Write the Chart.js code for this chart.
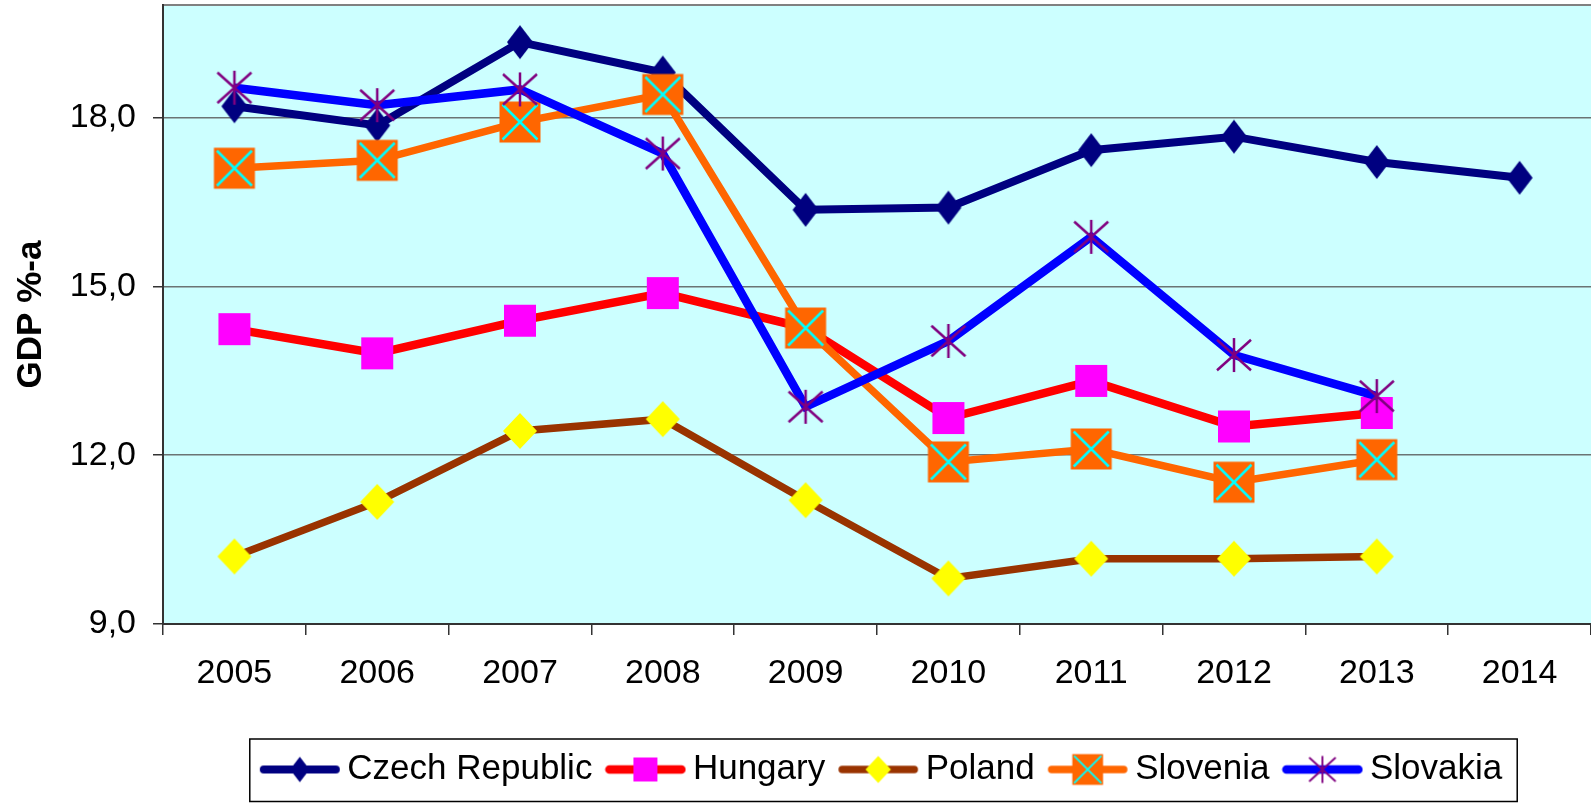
<!DOCTYPE html>
<html>
<head>
<meta charset="UTF-8">
<title>GDP %-a</title>
<script src="https://cdn.jsdelivr.net/npm/chart.js"></script>
<style>
  html, body { margin: 0; padding: 0; background: #fff; }
  .chart-box { width: 1591px; height: 803px; }
</style>
</head>
<body>
<div class="chart-box"><canvas id="gdpChart"></canvas></div>
<script>
// data
const years = ['2005', '2006', '2007', '2008', '2009', '2010', '2011', '2012', '2013', '2014'];
const czech = [18.2, 17.86, 19.34, 18.8, 16.36, 16.4, 17.42, 17.66, 17.21, 16.93];
const hungary = [14.24, 13.81, 14.39, 14.88, 14.26, 12.66, 13.32, 12.51, 12.75, null];
const poland = [10.2, 11.17, 12.43, 12.64, 11.2, 9.81, 10.16, 10.16, 10.2, null];
const slovenia = [17.1, 17.24, 17.92, 18.41, 14.26, 11.88, 12.11, 11.52, 11.92, null];
const slovakia = [18.53, 18.22, 18.5, 17.36, 12.86, 14.03, 15.88, 13.78, 13.05, null];
const yTicks = [9, 12, 15, 18];

const FONT = "'Liberation Sans', Arial, sans-serif";
const LEGEND_PAD = 23;

// excel-like markers
function drawMarker(g, kind, x, y, s) {
    g.beginPath();
    if (kind === 'diamond' || kind === 'ydiamond') {
        const hw = (kind === 'diamond' ? 13 : 17) * s;
        const hh = (kind === 'diamond' ? 17 : 18) * s;
        g.moveTo(x, y - hh); g.lineTo(x + hw, y); g.lineTo(x, y + hh); g.lineTo(x - hw, y); g.closePath();
        g.fillStyle = kind === 'diamond' ? '#000080' : '#FFFF00';
        g.fill();
    } else if (kind === 'square') {
        const h = 16 * s;
        g.fillStyle = '#FF00FF';
        g.fillRect(x - h, y - h, 2 * h, 2 * h);
    } else if (kind === 'xsquare') {
        const h = 20.5 * s, i = 3 * s;
        g.fillStyle = '#FF6600';
        g.fillRect(x - h, y - h, 2 * h, 2 * h);
        g.strokeStyle = '#00FFFF';
        g.lineWidth = 2.5 * s;
        g.moveTo(x - h + i, y - h + i); g.lineTo(x + h - i, y + h - i);
        g.moveTo(x + h - i, y - h + i); g.lineTo(x - h + i, y + h - i);
        g.stroke();
    } else if (kind === 'star') {
        const r = 17 * s;
        g.strokeStyle = '#800080';
        g.lineWidth = 2.5 * s;
        g.moveTo(x, y - r); g.lineTo(x, y + r);
        g.moveTo(x - r, y - 0.9 * r); g.lineTo(x + r, y + 0.9 * r);
        g.moveTo(x + r, y - 0.9 * r); g.lineTo(x - r, y + 0.9 * r);
        g.stroke();
    }
}

function pointImage(kind) {
    const c = document.createElement('canvas');
    c.width = 48; c.height = 48;
    drawMarker(c.getContext('2d'), kind, 24, 24, 1);
    return c;
}

function legendImage(kind, color, width) {
    const c = document.createElement('canvas');
    c.width = 82; c.height = 44;
    const g = c.getContext('2d');
    g.strokeStyle = color;
    g.lineWidth = width;
    g.lineCap = 'round';
    g.beginPath(); g.moveTo(5, 22); g.lineTo(77, 22); g.stroke();
    drawMarker(g, kind, 41, 22, 0.75);
    return c;
}

const series = [
    { label: 'Czech Republic', data: czech, color: '#000080', width: 8, kind: 'diamond' },
    { label: 'Hungary', data: hungary, color: '#FF0000', width: 8.5, kind: 'square' },
    { label: 'Poland', data: poland, color: '#993300', width: 7.5, kind: 'ydiamond' },
    { label: 'Slovenia', data: slovenia, color: '#FF6600', width: 7.5, kind: 'xsquare' },
    { label: 'Slovakia', data: slovakia, color: '#0000FF', width: 8.5, kind: 'star' }
];

// later series on top, like excel
const datasets = series.map((s, i) => ({
    label: s.label,
    data: s.data,
    borderColor: s.color,
    borderWidth: s.width,
    pointStyle: pointImage(s.kind),
    pointRadius: 5,
    legendImg: legendImage(s.kind, s.color, s.width),
    order: series.length - i,
    tension: 0,
    spanGaps: false
}));

const plotFrame = {
    id: 'plotFrame',
    beforeInit(chart) {
        const legend = chart.legend;
        const fit = legend.fit;
        legend.fit = function () { fit.call(this); this.height = 74; };
    },
    afterLayout(chart) {
        // nudge legend to where the original sits
        chart.legend.left += 9;
        chart.legend.right += 9;
    },
    beforeDraw(chart) {
        const { ctx, chartArea: a } = chart;
        ctx.save();
        ctx.fillStyle = '#CCFFFF';
        ctx.fillRect(a.left, a.top, a.right - a.left, a.bottom - a.top);
        ctx.strokeStyle = '#808080';
        ctx.lineWidth = 2;
        ctx.beginPath(); ctx.moveTo(a.left, a.top); ctx.lineTo(a.right, a.top); ctx.stroke();
        ctx.restore();
    },
    afterDraw(chart) {
        const lg = chart.legend;
        if (!lg.lineWidths) return;
        const lw = lg.lineWidths[0];
        const start = (lg.left + LEGEND_PAD + lg.right - lw) / 2;
        const ctx = chart.ctx;
        ctx.save();
        ctx.strokeStyle = '#000';
        ctx.lineWidth = 1.5;
        const x0 = start - 20, x1 = start + lw - LEGEND_PAD + 15;
        const y0 = lg.top + 10, y1 = chart.height - 1.5;
        ctx.strokeRect(x0, y0, x1 - x0, y1 - y0);
        ctx.restore();
    }
};

new Chart(document.getElementById('gdpChart'), {
    type: 'line',
    data: { labels: years, datasets: datasets },
    plugins: [plotFrame],
    options: {
        responsive: true,
        maintainAspectRatio: false,
        animation: false,
        layout: { autoPadding: false, padding: { top: 5, right: 0, left: 0, bottom: 0 } },
        plugins: {
            tooltip: { enabled: false },
            legend: {
                position: 'bottom',
                fullSize: false,
                labels: {
                    usePointStyle: true,
                    pointStyleWidth: 60,
                    padding: LEGEND_PAD,
                    color: '#000',
                    font: { family: FONT, size: 35 },
                    generateLabels: chart => chart.data.datasets.map((ds, i) => ({
                        text: ds.label,
                        pointStyle: ds.legendImg,
                        fillStyle: ds.borderColor,
                        strokeStyle: ds.borderColor,
                        lineWidth: 0,
                        hidden: false,
                        datasetIndex: i
                    }))
                }
            }
        },
        scales: {
            x: {
                offset: true,
                afterFit: s => { s.height = 105; s.paddingLeft = 0; s.paddingRight = 0; },
                grid: { offset: true, drawOnChartArea: false, drawTicks: true, tickLength: 11, color: '#333', lineWidth: 1.5 },
                border: { color: '#333', width: 2 },
                ticks: { color: '#000', padding: 18, maxRotation: 0, font: { family: FONT, size: 34 } }
            },
            y: {
                min: 9,
                max: 20,
                afterFit: s => { s.width = 163; s.paddingTop = 0; s.paddingBottom = 0; },
                afterBuildTicks: s => { s.ticks = yTicks.map(v => ({ value: v })); },
                grid: { color: '#6a7474', lineWidth: 1.5, tickLength: 10, tickColor: '#333' },
                border: { color: '#333', width: 2 },
                ticks: {
                    color: '#000',
                    padding: 17,
                    font: { family: FONT, size: 34 },
                    callback: v => v.toFixed(1).replace('.', ',')
                },
                title: {
                    display: true,
                    text: 'GDP %-a',
                    color: '#000',
                    padding: { top: 10, bottom: 0 },
                    font: { family: FONT, size: 35, weight: 'bold' }
                }
            }
        }
    }
});
</script>
</body>
</html>
